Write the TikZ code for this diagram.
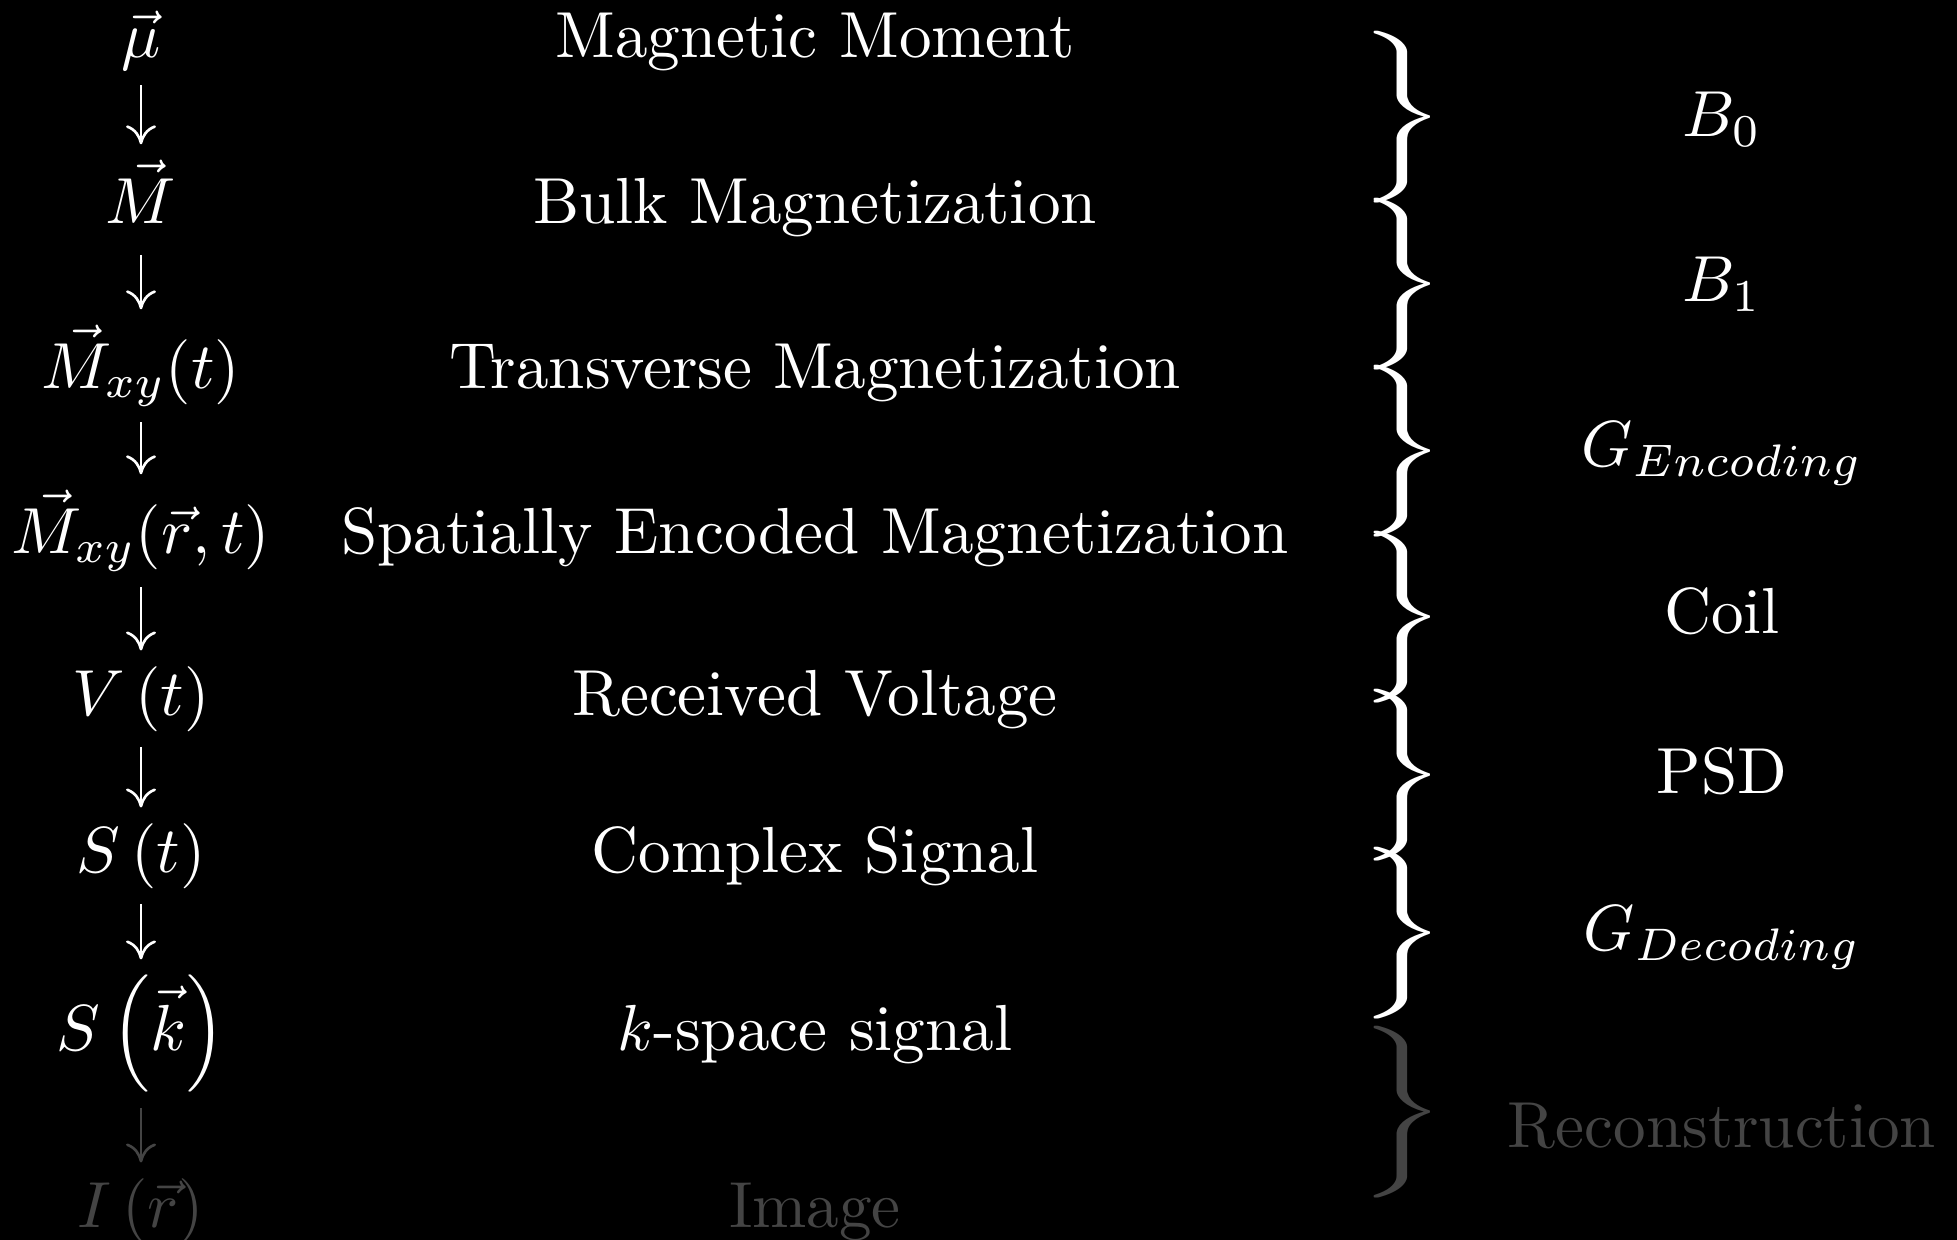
\documentclass[tikz,border=0pt]{standalone}
\usepackage{amsmath}
\usepackage{graphicx}
\usetikzlibrary{arrows.meta}
\definecolor{FadedGray}{RGB}{68,68,68}
\newcommand{\enl}[1]{\scalebox{1.853}{#1}}
\newcommand{\tallbrace}{\scalebox{3.1}[1.63]{$\Bigg\}$}}

\begin{document}
\begin{tikzpicture}[x=0.1mm,y=-0.1mm,
  every node/.style={text=white,inner sep=0pt},
  lbl/.style={anchor=base},
  desc/.style={anchor=base},
  fld/.style={anchor=center},
  brc/.style={anchor=west},
  arr/.style={-{Computer Modern Rightarrow[length=1.9mm,width=3mm]},line width=0.75pt,
              white,shorten <=1.5mm,shorten >=1.5mm},
  faded/.style={text=FadedGray},
]
\fill[black] (0,0) rectangle (1957,1240);
\useasboundingbox (0,0) rectangle (1957,1240);

% left column: quantities
\node[lbl] (mu)   at (141,57)   {\enl{$\vec{\mu}$}};
\node[lbl] (M)    at (141,223)  {\enl{$\vec{M}\vphantom{(}$}};
\node[lbl] (Mt)   at (141,388)  {\enl{$\vec{M}_{xy}(t)$}};
\node[lbl] (Mrt)  at (141,553)  {\enl{$\vec{M}_{xy}(\vec{r},t)$}};
\node[lbl] (Vt)   at (141,715)  {\enl{$V\left(t\right)$}};
\node[lbl] (St)   at (141,872)  {\enl{$S\left(t\right)$}};
\node[lbl] (Sk)   at (141,1050) {\enl{$S\left(\vec{k}\right)$}};
\node[lbl,faded] (Ir) at (141,1227) {\enl{$I\left(\vec{r}\right)$}};

\draw[arr] (mu) -- (M);
\draw[arr] (M) -- (Mt);
\draw[arr] (Mt) -- (Mrt);
\draw[arr] (Mrt) -- (Vt);
\draw[arr] (Vt) -- (St);
\draw[arr] (St) -- (Sk);
\draw[arr,FadedGray] (Sk) -- (Ir);

% middle column: names
\node[desc] (muname)  at (815,57)   {\enl{Magnetic Moment}};
\node[desc] (Mname)   at (815,223)  {\enl{Bulk Magnetization}};
\node[desc] (Mtname)  at (815,388)  {\enl{Transverse Magnetization}};
\node[desc] (Mrtname) at (815,553)  {\enl{Spatially Encoded Magnetization}};
\node[desc] (Vtname)  at (815,715)  {\enl{Received Voltage}};
\node[desc] (Stname)  at (815,872)  {\enl{Complex Signal}};
\node[desc] (Skname)  at (815,1050) {\enl{$k$-space signal}};
\node[desc,faded] (Irname) at (815,1227) {\enl{Image}};

% right column: braces and agents
\node[brc] (br1) at (1358,117)  {\tallbrace};
\node[brc] (br2) at (1358,284)  {\tallbrace};
\node[brc] (br3) at (1358,451)  {\tallbrace};
\node[brc] (br4) at (1358,617)  {\tallbrace};
\node[brc] (br5) at (1358,775)  {\tallbrace};
\node[brc] (br6) at (1358,933)  {\tallbrace};
\node[brc,faded] (br7) at (1358,1112) {\tallbrace};

\node[fld] (Bzero) at (1722,119)  {\enl{$B_0$}};
\node[fld] (Bone)  at (1722,284)  {\enl{$B_1$}};
\node[fld] (Genc)  at (1722,454)  {\enl{$G_{Encoding}$}};
\node[fld] (coil)  at (1722,611)  {\enl{Coil}};
\node[fld] (psd)   at (1722,771)  {\enl{PSD}};
\node[fld] (Gdec)  at (1722,938)  {\enl{$G_{Decoding}$}};
\node[fld,faded] (recon) at (1722,1126) {\enl{Reconstruction}};
\end{tikzpicture}
\end{document}
